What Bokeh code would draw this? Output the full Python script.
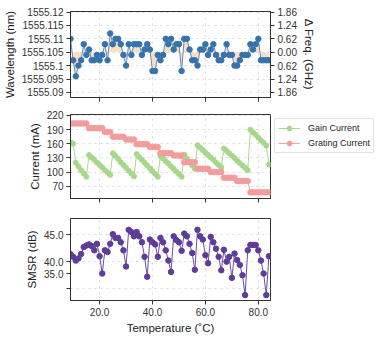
from bokeh.plotting import figure
from bokeh.layouts import column
from bokeh.models import (Range1d, LinearAxis, FixedTicker, Legend, LegendItem,
                          NumeralTickFormatter, CustomLabelingPolicy)
from bokeh.embed import file_html
from bokeh.resources import INLINE

# ---------------- data ----------------
temperature = list(range(9, 85))

wavelength = [
    1555.110, 1555.102, 1555.096, 1555.100, 1555.102, 1555.108, 1555.104, 1555.106, 1555.102, 1555.102,
    1555.104, 1555.102, 1555.104, 1555.108, 1555.102, 1555.112, 1555.108, 1555.110, 1555.110, 1555.108,
    1555.104, 1555.100, 1555.108, 1555.104, 1555.108, 1555.108, 1555.108, 1555.104, 1555.106, 1555.108,
    1555.106, 1555.098, 1555.098, 1555.104, 1555.102, 1555.104, 1555.110, 1555.108, 1555.110, 1555.106,
    1555.108, 1555.108, 1555.098, 1555.110, 1555.110, 1555.106, 1555.102, 1555.102, 1555.100, 1555.106,
    1555.106, 1555.108, 1555.104, 1555.106, 1555.108, 1555.104, 1555.102, 1555.102, 1555.104, 1555.108,
    1555.104, 1555.104, 1555.100, 1555.100, 1555.102, 1555.104, 1555.104, 1555.104, 1555.108, 1555.106,
    1555.108, 1555.110, 1555.102, 1555.102, 1555.102, 1555.102,
]
center_wavelength = 1555.105

gain_current = [
    163, 160, 120, 112, 104, 97, 90,
    136, 131, 126, 120, 115, 110, 104, 99, 94,
    140, 134, 128, 121, 115, 109, 103, 97, 91,
    138, 132, 126, 120, 114, 108, 102, 96, 90,
    134, 129, 123, 118, 112, 107, 101, 96, 90,
    137, 129, 122, 114, 107,
    157, 152, 147, 141, 136, 131, 126, 120, 115, 110,
    150, 145, 140, 135, 130, 124, 119, 114, 109, 104,
    190, 184, 179, 173, 167, 162, 156,
    116,
]

grating_current = (
    [203] * 7 + [193] * 6 + [185] * 3 + [175] * 5 + [169] * 4 + [159] * 5 + [153] * 4 +
    [140] * 5 + [135] * 4 + [121] * 5 + [107] * 5 + [100] * 5 + [88] * 5 + [81] * 5 + [57] * 8
)

smsr = [
    41.4, 40.9, 40.2, 40.6, 41.4, 42.7, 43.0, 43.2, 42.9, 42.1,
    43.3, 41.0, 37.8, 42.1, 41.8, 43.3, 45.1, 44.4, 44.4, 43.6,
    42.1, 39.1, 45.9, 45.5, 44.7, 45.5, 44.7, 43.6, 40.9, 37.2,
    44.1, 43.6, 43.2, 40.9, 44.4, 43.6, 42.1, 40.2, 38.1, 44.7,
    44.0, 43.6, 42.0, 45.2, 44.7, 43.3, 41.6, 38.5, 45.9, 44.7,
    44.1, 41.2, 39.7, 44.6, 43.6, 42.4, 40.9, 38.4, 42.2, 40.0,
    40.9, 37.0, 41.5, 40.3, 39.4, 37.5,
    33.8, 42.1, 43.1, 43.1, 43.1, 42.1, 40.2, 37.8, 33.8, 41.0,
]

wl_ticks = [1555.09, 1555.095, 1555.1, 1555.105, 1555.11, 1555.115, 1555.12]
wl_tick_labels = ["1555.09", "1555.095", "1555.1", "1555.105", "1555.11", "1555.115", "1555.12"]
freq_tick_labels = ["1.86", "1.24", "0.62", "0.00", "0.62", "1.24", "1.86"]
current_ticks = [70, 100, 130, 160, 190, 220]
smsr_ticks = [45, 40, 35]
smsr_label_ticks = [45, 40, 37.8, 35]
smsr_label_texts = ["45.0", "40.0", "35.0", ""]
temp_ticks = [20, 40, 60, 80]

FONT = "Liberation Sans"
xr = Range1d(9, 84.6)

hide_labels = CustomLabelingPolicy(code="""
    for (const i of Array.from(indices)) { indices.unset(i) }
    return indices
""")


def style(p, show_x_labels=False):
    p.outline_line_color = "#333333"
    p.outline_line_width = 1
    for ax in p.axis:
        ax.axis_line_color = "#333333"
        ax.major_tick_line_color = "#333333"
        ax.major_tick_out = 4
        ax.major_tick_in = 0
        ax.minor_tick_line_color = None
        ax.major_label_text_font = FONT
        ax.major_label_text_font_size = "10px"
        ax.major_label_text_color = "#333333"
        ax.axis_label_text_font = FONT
        ax.axis_label_text_font_size = "11.5px"
        ax.axis_label_text_font_style = "normal"
        ax.axis_label_text_color = "#222222"
        ax.axis_label_standoff = 3
        ax.major_label_standoff = 3
    p.xaxis.ticker = FixedTicker(ticks=temp_ticks)
    p.xaxis.formatter = NumeralTickFormatter(format="0.0")
    if not show_x_labels:
        p.xaxis.major_label_policy = hide_labels
        p.xaxis.major_label_text_font_size = "1px"
        p.xaxis.major_label_standoff = 0
    for g in p.grid:
        g.grid_line_color = "#d8d8d8"
        g.grid_line_dash = "dotted"
        g.grid_line_width = 1


# ---------------- top: wavelength ----------------
p1 = figure(frame_width=200, frame_height=86, x_range=xr,
            y_range=Range1d(1555.0881, 1555.1202),
            output_backend="svg", toolbar_location=None,
            min_border_left=68, min_border_top=11, min_border_bottom=5, min_border_right=4)
p1.varea(x=temperature, y1=wavelength, y2=[center_wavelength] * len(temperature),
         fill_color="#f9c99c", fill_alpha=0.6)
p1.line(temperature, wavelength, line_color="#5b8fc0", line_width=1)
p1.scatter(temperature, wavelength, size=5.5, fill_color="#3673ae", line_color="#3673ae")
p1.yaxis.axis_label = "Wavelength (nm)"
p1.yaxis.ticker = FixedTicker(ticks=wl_ticks)
p1.yaxis.major_label_overrides = dict(zip(wl_ticks, wl_tick_labels))
rax = LinearAxis(axis_label="Δ Freq. (GHz)", ticker=FixedTicker(ticks=wl_ticks[::-1]))
rax.major_label_overrides = dict(zip(wl_ticks[::-1], freq_tick_labels))
p1.add_layout(rax, "right")
style(p1)

# ---------------- middle: currents ----------------
p2 = figure(frame_width=200, frame_height=84, x_range=xr, y_range=Range1d(44, 222),
            output_backend="svg", toolbar_location=None,
            min_border_left=68, min_border_top=9, min_border_bottom=5, min_border_right=0)
g_line = p2.line(temperature, gain_current, line_color="#a9d98f", line_width=1)
g_sc = p2.scatter(temperature, gain_current, size=5, fill_color="#a6d88a", line_color="#a6d88a")
r_line = p2.line(temperature, grating_current, line_color="#f3a3a3", line_width=1)
r_sc = p2.scatter(temperature, grating_current, size=5.5, fill_color="#f49c9c", line_color="#f49c9c")
p2.yaxis.axis_label = "Current (mA)"
p2.yaxis.ticker = FixedTicker(ticks=current_ticks)
style(p2)
legend = Legend(items=[LegendItem(label="Gain Current", renderers=[g_line, g_sc]),
                       LegendItem(label="Grating Current", renderers=[r_line, r_sc])],
                location="top_left")
legend.margin = 4
legend.padding = 3
legend.spacing = 3
legend.glyph_width = 22
legend.glyph_height = 12
legend.label_height = 12
legend.label_standoff = 8
legend.label_text_font = FONT
legend.label_text_font_size = "9px"
legend.label_text_color = "#222222"
legend.border_line_color = "#c8c8c8"
legend.border_line_width = 1
p2.add_layout(legend, "right")

# ---------------- bottom: SMSR ----------------
p3 = figure(frame_width=200, frame_height=82, x_range=xr, y_range=Range1d(32.8, 48),
            output_backend="svg", toolbar_location=None,
            min_border_left=68, min_border_top=12, min_border_bottom=5, min_border_right=4)
p3.line(temperature, smsr, line_color="#6a4ca6", line_width=1)
p3.scatter(temperature, smsr, size=5.5, fill_color="#5e3c99", line_color="#5e3c99")
p3.yaxis.axis_label = "SMSR (dB)"
p3.xaxis.axis_label = "Temperature (˚C)"
style(p3, show_x_labels=True)
p3.yaxis.ticker = FixedTicker(ticks=smsr_label_ticks)
p3.yaxis.major_label_overrides = dict(zip(smsr_label_ticks, smsr_label_texts))
p3.ygrid.ticker = FixedTicker(ticks=smsr_ticks)

layout = column(p1, p2, p3, spacing=0)
open("out.html", "w").write(file_html(layout, INLINE))
